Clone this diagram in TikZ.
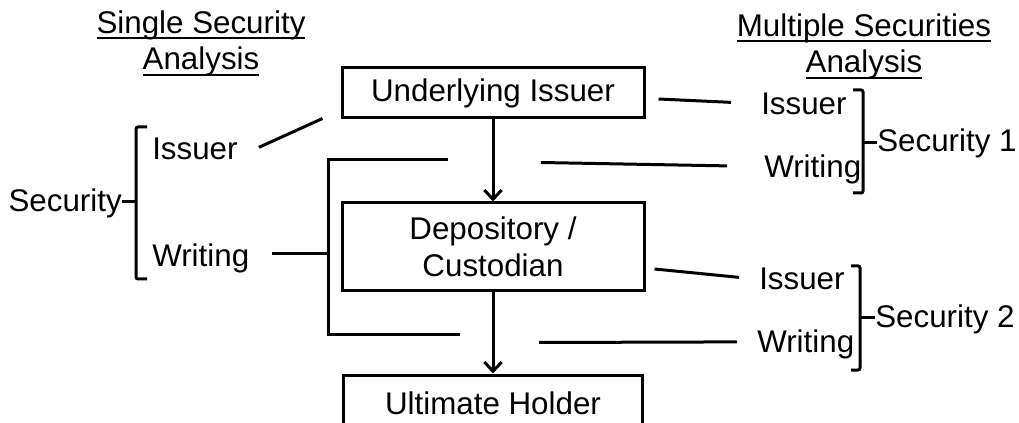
\documentclass[tikz,border=0pt]{standalone}
\usepackage{fontspec}
\setmainfont{Liberation Sans}
\usetikzlibrary{arrows.meta}
% underline sitting close under the letters
\newcommand{\headrule}[1]{\setbox0\hbox{#1}\rlap{\rule[-4.5pt]{\wd0}{1.5pt}}\box0}
\tikzset{
  box/.style={rectangle, draw=black, line width=2.25pt, minimum width=226.5pt, align=center, inner sep=0pt},
  lbl/.style={inner sep=0pt},
  link/.style={line width=2.25pt},
  brk/.style={line width=2.25pt, rounded corners=1.5pt},
  flow/.style={line width=2.25pt, -{Straight Barb[length=7pt,width=13pt]}}
}

\begin{document}
\begin{tikzpicture}[x=0.75pt, y=-0.75pt, font=\fontsize{23.5}{27.5}\selectfont]
\useasboundingbox (0,0) rectangle (1019,423);
% headings
\node (hsingle) [lbl, align=center, anchor=base] at (201,70) {\headrule{Single Security}\\\headrule{Analysis}};
\node (hmulti) [lbl, align=center, anchor=base] at (864,73) {\headrule{Multiple Securities}\\\headrule{Analysis}};

% holding chain
\node (ui) [box, minimum height=37.5pt] at (493,93) {Underlying Issuer};
\node (dep) [box, minimum height=66pt] at (493,247) {Depository /\\Custodian};
\node (ult) [box, minimum width=224pt, minimum height=42pt] at (493,403) {Ultimate Holder};
\draw [flow] (ui) -- (dep);
\draw [flow] (dep) -- (ult);

% single security side
\node (sec) [lbl, anchor=base east] at (122,212) {Security};
\node (is0) [lbl, anchor=base west] at (152,160) {Issuer};
\node (wr0) [lbl, anchor=base west] at (152,267) {Writing};
\draw [brk] (147,127) -- (136,127) -- (136,279) -- (147,279);
\draw [link] ([shift={(0,-2)}]sec.east) -- ++(14,0);
\draw [link] ([shift={(21,-2)}]is0.east) -- ([shift={(-18,-1)}]ui.south west);
\draw [link] ([shift={(22.5,-5)}]wr0.east) -- ++(56,0);
\draw [link] ([shift={(-45,40)}]ui.south) -- ++(-120,0) |- ([shift={(-33,-39)}]ult.north);

% multiple securities side
\node (is1) [lbl, anchor=base west] at (761,115) {Issuer};
\node (wr1) [lbl, anchor=base west] at (764,178) {Writing};
\node (is2) [lbl, anchor=base west] at (759,290) {Issuer};
\node (wr2) [lbl, anchor=base west] at (757,353) {Writing};
\node (s1) [lbl, anchor=base west] at (877,152) {Security 1};
\node (s2) [lbl, anchor=base west] at (875,328) {Security 2};
\draw [brk] (853,90) -- (863,90) -- (863,193) -- (853,193);
\draw [brk] (851,266) -- (860,266) -- (860,370) -- (851,370);
\draw [link] ([shift={(0,-1)}]s1.west) -- ++(-14,0);
\draw [link] ([shift={(0,-2)}]s2.west) -- ++(-15,0);
\draw [link] ([shift={(13,6)}]ui.east) -- ([shift={(-30,-2)}]is1.west);
\draw [link] ([shift={(48,-39)}]dep.north) -- ([shift={(-37,-4)}]wr1.west);
\draw [link] ([shift={(9,22)}]dep.east) -- ([shift={(-20,-2)}]is2.west);
\draw [link] ([shift={(46,-31)}]ult.north) -- ([shift={(-20,-3)}]wr2.west);
\end{tikzpicture}
\end{document}
